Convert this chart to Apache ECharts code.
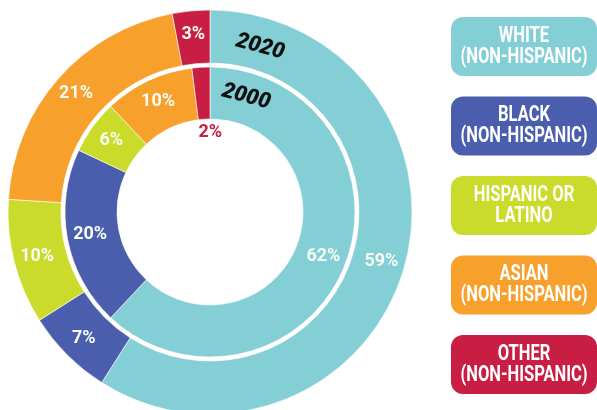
<!DOCTYPE html>
<html>
<head>
<meta charset="utf-8">
<script src="https://cdn.jsdelivr.net/npm/echarts@6/dist/echarts.min.js"></script>
<style>
  html, body { margin: 0; padding: 0; background: #fff; }
  #chart { width: 597px; height: 410px; }
</style>
</head>
<body>
<div id="chart"></div>
<script>
// data
const categories = ['White (non-Hispanic)', 'Black (non-Hispanic)', 'Hispanic or Latino', 'Asian (non-Hispanic)', 'Other (non-Hispanic)'];
const legendLabels = ['WHITE\n(NON-HISPANIC)', 'BLACK\n(NON-HISPANIC)', 'HISPANIC OR\nLATINO', 'ASIAN\n(NON-HISPANIC)', 'OTHER\n(NON-HISPANIC)'];
const share2020 = [59, 7, 10, 21, 3];
const share2000 = [62, 20, 6, 10, 2];
const ringNames = ['2020', '2000'];
const colors = ['#84CFD6', '#4A5EAD', '#CBDB2B', '#F7A02B', '#C81E43'];

function buildData(values, inner) {
  return values.map(function (v, i) {
    var item = { name: categories[i], value: v, itemStyle: { color: colors[i] } };
    // the small 2000 slice puts its label in the hole
    if (inner && i === 4) item.label = { color: colors[4] };
    return item;
  });
}

const chart = echarts.init(document.getElementById('chart'));

// legend boxes
var graphics = [];
legendLabels.forEach(function (txt, i) {
  var top = 17 + i * 79.5;
  graphics.push({
    type: 'rect',
    shape: { x: 451, y: top, width: 146, height: 59, r: 12 },
    style: { fill: colors[i] },
    silent: true
  });
  // condensed look: squeeze wide, stretch tall
  graphics.push({
    type: 'text',
    x: 524,
    y: top + 30,
    scaleX: 0.87,
    scaleY: 1.12,
    style: {
      text: txt,
      fill: '#fff',
      font: 'bold 19px Roboto, sans-serif',
      align: 'center',
      verticalAlign: 'middle',
      lineHeight: 18.5
    },
    silent: true
  });
});

// ring titles (drawn above the rings)
[[260, 47], [246, 97]].forEach(function (pos, i) {
  graphics.push({
    type: 'text', x: pos[0], y: pos[1], z: 100,
    rotation: -15 * Math.PI / 180,
    style: {
      text: ringNames[i], fill: '#111',
      font: 'italic 900 22px Roboto, sans-serif',
      align: 'center', verticalAlign: 'middle'
    },
    silent: true
  });
});

var pieLabel = {
  show: true,
  position: 'inside',
  formatter: '{c}%',
  color: '#F6FBF4',
  fontFamily: 'Roboto',
  fontWeight: 'bold',
  fontSize: 18
};

chart.setOption({
  animation: false,
  graphic: graphics,
  series: [
    {
      name: ringNames[0],
      type: 'pie',
      center: [210, 212],
      radius: [149, 202],
      startAngle: 90,
      clockwise: true,
      silent: true,
      avoidLabelOverlap: false,
      itemStyle: { borderColor: 'rgba(255,255,255,0.6)', borderWidth: 1 },
      label: pieLabel,
      labelLine: { show: false },
      data: buildData(share2020, false)
    },
    {
      name: ringNames[1],
      type: 'pie',
      center: [210, 212],
      radius: [93, 145],
      startAngle: 90,
      clockwise: true,
      silent: true,
      avoidLabelOverlap: false,
      itemStyle: { borderColor: 'rgba(255,255,255,0.6)', borderWidth: 1 },
      label: pieLabel,
      labelLine: { show: false },
      labelLayout: function (p) {
        if (p.dataIndex === 4) return { dx: 8, dy: 42 };
      },
      data: buildData(share2000, true)
    }
  ]
});
</script>
</body>
</html>
